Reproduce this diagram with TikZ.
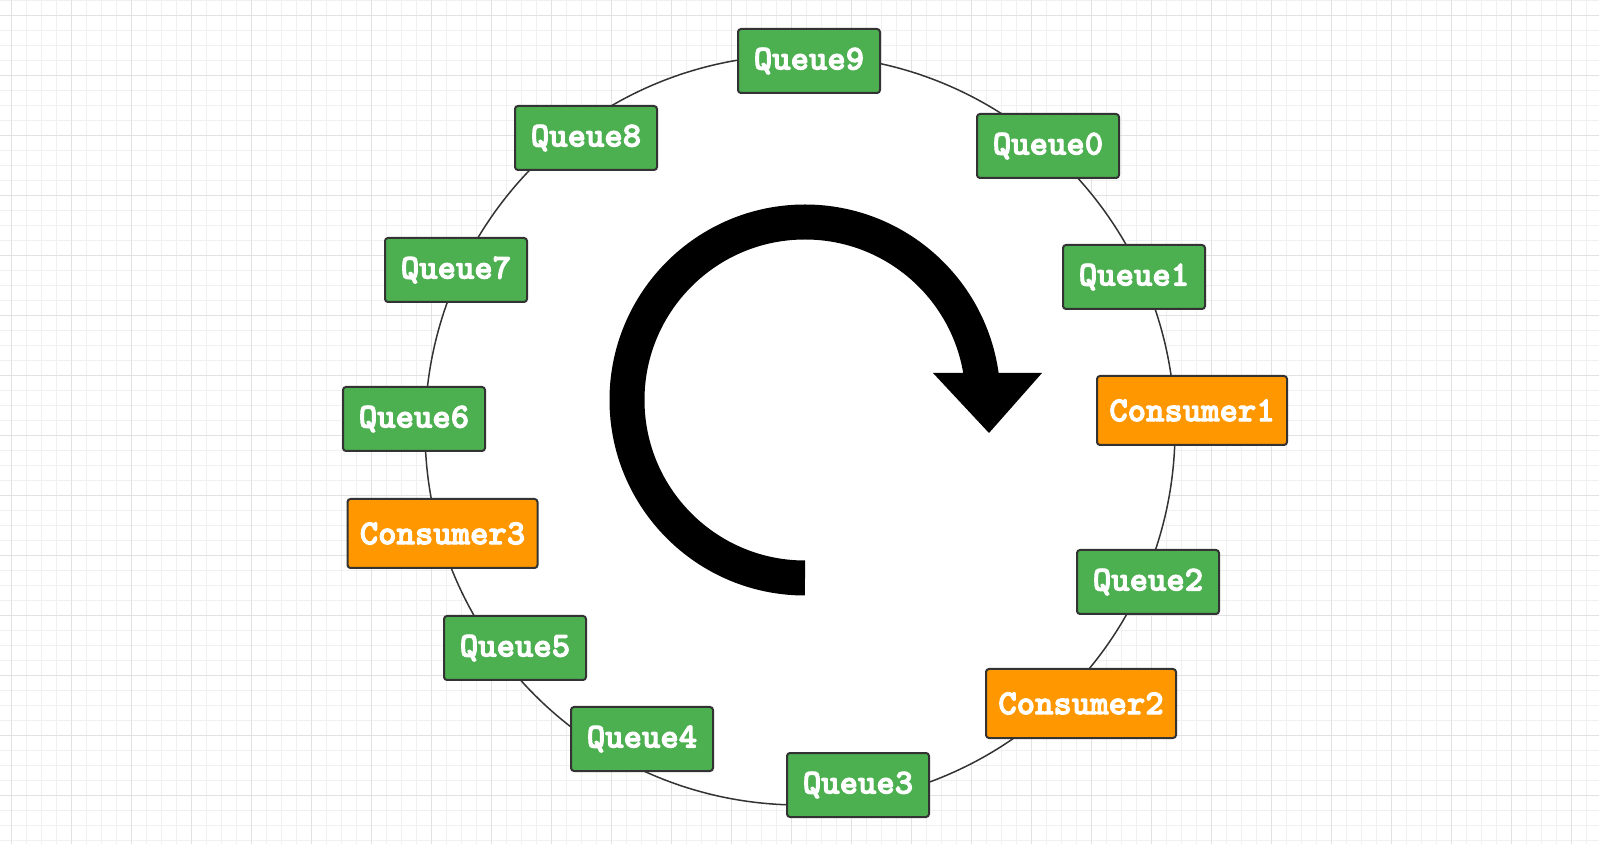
\documentclass[tikz,border=0pt]{standalone}
\usepackage{fontspec}
\newfontfamily\boxfont{lmmonolt10-bold.otf}[FakeBold=3]
\usepackage{tikz}
\usetikzlibrary{arrows.meta, positioning}
\definecolor{queuegreen}{HTML}{4CAF50}
\definecolor{consumerorange}{HTML}{FF9800}
\definecolor{edgegray}{HTML}{333333}
\definecolor{gridminor}{HTML}{F0F0F0}
\definecolor{gridmajor}{HTML}{E2E2E2}

\begin{document}
\begin{tikzpicture}[x=1pt, y=1pt,
    ringbox/.style={draw=edgegray, line width=2pt, rounded corners=3pt, inner sep=0pt, text=white, font=\boxfont\fontsize{35}{40}\selectfont},
    queuebox/.style={ringbox, fill=queuegreen, minimum width=142pt, minimum height=64pt},
    consumerbox/.style={ringbox, fill=consumerorange, minimum width=190pt, minimum height=69pt}]
    \useasboundingbox (0,0) rectangle (1599,844);
    \fill[white] (0,0) rectangle (1599,844);
    \foreach \i in {0,...,105}
        \draw[gridminor, line width=1pt] ({11.5+15*\i},0) -- ({11.5+15*\i},844);
    \foreach \j in {0,...,56}
        \draw[gridminor, line width=1pt] (0,{843.5-15*\j}) -- (1599,{843.5-15*\j});
    \foreach \i in {0,...,26}
        \draw[gridmajor, line width=1pt] ({11.5+60*\i},0) -- ({11.5+60*\i},844);
    \foreach \j in {0,...,13}
        \draw[gridmajor, line width=1pt] (0,{828.5-60*\j}) -- (1599,{828.5-60*\j});

    \coordinate (ring) at (800,414);
    \draw[edgegray, line width=1.5pt, fill=white] (ring) circle[radius=375];

    \coordinate (spin) at (805,444);
    \draw[line width=35pt] (spin) ++(270:178) arc[start angle=270, end angle=5, radius=178];
    \fill (933,471) -- (1042,471) -- (989,411) -- cycle;

    \foreach \name/\x/\y/\kind/\label in {q9/809/783/queuebox/Queue9, q0/1048/698/queuebox/Queue0,
        q1/1134/567/queuebox/Queue1, c1/1192/433.5/consumerbox/Consumer1, q2/1148/262/queuebox/Queue2,
        c2/1081/140.5/consumerbox/Consumer2, q3/858/59/queuebox/Queue3, q4/642/105/queuebox/Queue4,
        q5/515/196/queuebox/Queue5, c3/442.5/310.5/consumerbox/Consumer3, q6/414/425/queuebox/Queue6,
        q7/456/574/queuebox/Queue7, q8/586/706/queuebox/Queue8}
        \node[\kind] (\name) at (\x,\y) {\label};
\end{tikzpicture}
\end{document}
